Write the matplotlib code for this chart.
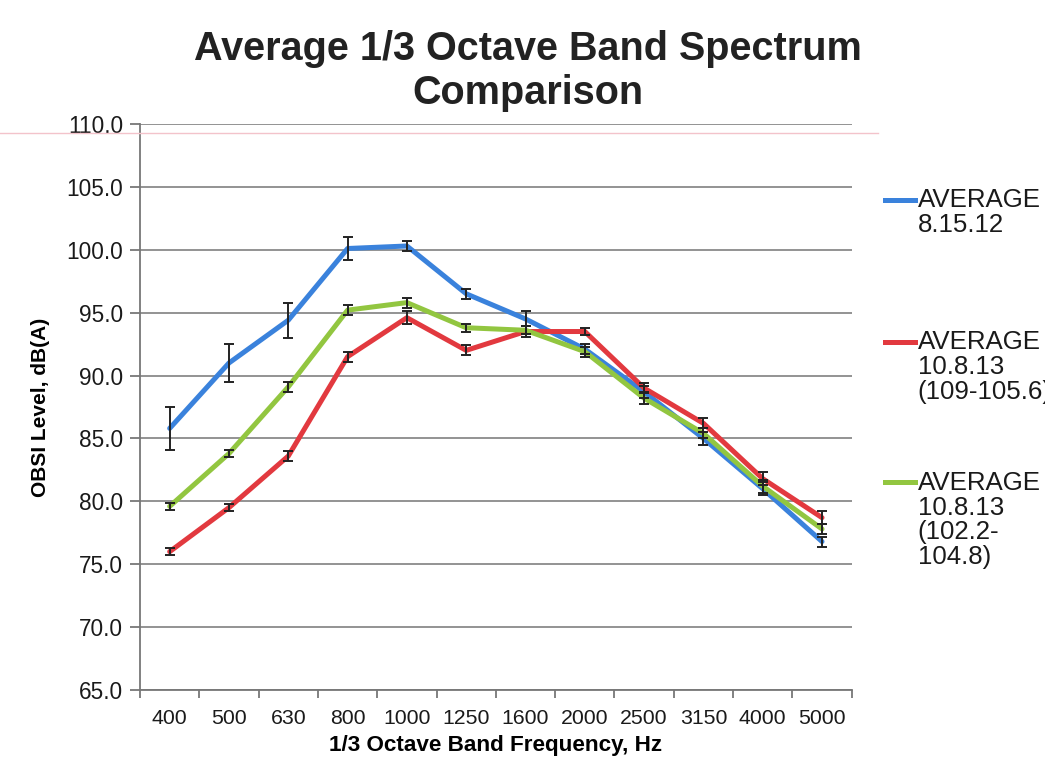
import numpy as np
import matplotlib.pyplot as plt
from matplotlib.lines import Line2D

plt.rcParams['font.family'] = ['Liberation Sans', 'DejaVu Sans']

freqs = ['400', '500', '630', '800', '1000', '1250', '1600', '2000',
         '2500', '3150', '4000', '5000']

avg_8_15_12 = [85.8, 91.0, 94.4, 100.1, 100.3, 96.5, 94.5, 92.1, 88.7, 85.0, 81.0, 76.8]
err_8_15_12 = [1.7, 1.5, 1.4, 0.9, 0.4, 0.4, 0.6, 0.4, 0.5, 0.5, 0.5, 0.4]

avg_high = [76.0, 79.5, 83.6, 91.5, 94.6, 92.0, 93.5, 93.5, 89.0, 86.2, 81.8, 78.7]
err_high = [0.3, 0.3, 0.4, 0.4, 0.5, 0.4, 0.4, 0.3, 0.4, 0.4, 0.5, 0.5]

avg_low = [79.6, 83.8, 89.1, 95.2, 95.8, 93.8, 93.6, 91.9, 88.2, 85.4, 81.2, 77.8]
err_low = [0.3, 0.3, 0.4, 0.4, 0.4, 0.3, 0.3, 0.4, 0.5, 0.4, 0.5, 0.4]

labels = ['AVERAGE\n8.15.12', 'AVERAGE\n10.8.13\n(109-105.6)', 'AVERAGE\n10.8.13\n(102.2-\n104.8)']
colors = ['#3a82dc', '#e2393f', '#92c640']
series = [(avg_8_15_12, err_8_15_12), (avg_high, err_high), (avg_low, err_low)]

fig = plt.figure(figsize=(10.45, 7.63), dpi=100)
ax = fig.add_axes([0.134, 0.0957, 0.681, 0.7418])

x = np.arange(len(freqs))
for (vals, errs), c in zip(series, colors):
    ax.plot(x, vals, color=c, lw=3.6, solid_capstyle='round', zorder=3)
    ax.errorbar(x, vals, yerr=errs, fmt='none', ecolor='#222222', elinewidth=1.4,
                capsize=3.6, capthick=1.4, zorder=4)

ax.set_ylim(65, 110)
ax.set_yticks(np.arange(65, 110.1, 5))
ax.set_yticklabels([f'{v:.1f}' for v in np.arange(65, 110.1, 5)])
ax.set_xlim(-0.5, len(freqs) - 0.5)
ax.set_xticks(x)
ax.set_xticklabels(freqs)
ax.set_xticks(np.arange(-0.5, len(freqs)), minor=True)
ax.tick_params(axis='x', which='major', length=0, pad=14, labelsize=15.3, colors='#1a1a1a')
ax.tick_params(axis='x', which='minor', length=6, width=1.3, color='#777777', direction='out')
ax.tick_params(axis='y', length=7, width=1.3, color='#777777', direction='out',
               labelsize=16.3, labelcolor='#1a1a1a', pad=5)

ax.grid(axis='y', color='#8a8a8a', lw=1.3)
ax.set_axisbelow(True)
for s in ['top', 'right']:
    ax.spines[s].set_visible(False)
for s in ['left', 'bottom']:
    ax.spines[s].set_color('#777777')
    ax.spines[s].set_linewidth(1.3)

ax.set_xlabel('1/3 Octave Band Frequency, Hz', fontsize=16.2, fontweight='bold', labelpad=5)
ax.set_ylabel('OBSI Level, dB(A)', fontsize=15, fontweight='bold', labelpad=12)

fig.text(0.505, 0.907, 'Average 1/3 Octave Band Spectrum\nComparison', ha='center', va='center',
         fontsize=28.5, fontweight='bold', color='#222222', linespacing=1.2)

# scan artifact line
fig.add_artist(Line2D([0, 0.84], [0.8257, 0.8257], color='#f3c3cb', lw=1))

# legend, Excel style
leg_y = [0.738, 0.552, 0.368]
for lab, c, yy in zip(labels, colors, leg_y):
    fig.add_artist(Line2D([0.847, 0.876], [yy, yy], color=c, lw=3.6))
    fig.text(0.878, yy + 0.015, lab, ha='left', va='top', fontsize=18.6,
             color='#1a1a1a', linespacing=1.04)

fig.savefig('out.png', dpi=100)
